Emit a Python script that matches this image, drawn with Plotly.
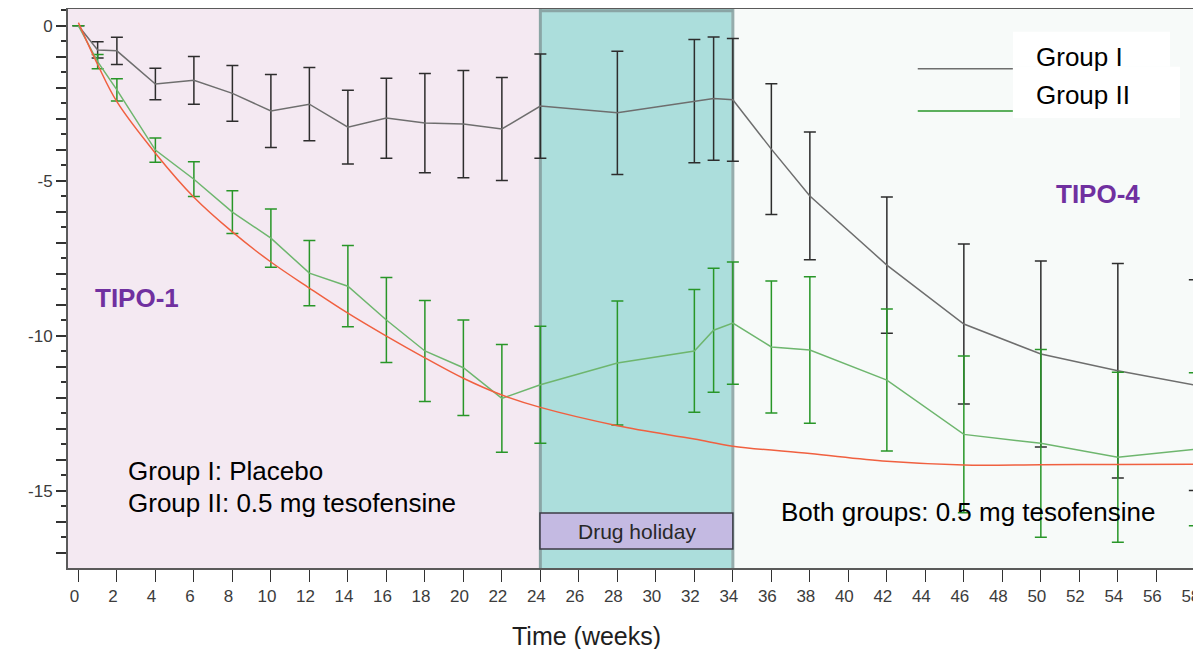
import plotly.graph_objects as go

# ---------------- data ----------------
weeks = [0, 1, 2, 4, 6, 8, 10, 12, 14, 16, 18, 20, 22, 24, 28, 32, 33, 34, 36, 38, 42, 46, 50, 54, 58]

group1_mean = [0, -0.78, -0.81, -1.88, -1.76, -2.18, -2.75, -2.53, -3.27, -2.98, -3.14, -3.17, -3.33,
               -2.59, -2.81, -2.43, -2.35, -2.39, -3.98, -5.49, -7.72, -9.62, -10.59, -11.13, -11.59]
group1_err = [0, 0.26, 0.44, 0.51, 0.77, 0.90, 1.18, 1.18, 1.19, 1.29, 1.60, 1.73, 1.66,
              1.68, 1.99, 1.99, 1.99, 1.98, 2.11, 2.06, 2.20, 2.58, 3.00, 3.46, 3.40]

group2_mean = [0, -1.16, -2.07, -4.01, -4.95, -6.01, -6.85, -7.98, -8.40, -9.49, -10.49, -11.03, -12.02,
               -11.58, -10.88, -10.49, -9.82, -9.59, -10.36, -10.46, -11.43, -13.18, -13.47, -13.92, -13.66]
group2_err = [0, 0.23, 0.36, 0.39, 0.56, 0.69, 0.94, 1.05, 1.31, 1.37, 1.63, 1.54, 1.74,
              1.89, 2.00, 1.98, 2.00, 1.97, 2.13, 2.36, 2.29, 2.53, 3.03, 2.74, 2.47]

model_weeks = [0, 1, 2, 4, 6, 8, 10, 12, 14, 16, 18, 20, 22, 24, 28, 32, 34, 38, 42, 46, 50, 54, 58]
model_curve = [0.1, -1.25, -2.45, -4.11, -5.53, -6.65, -7.62, -8.46, -9.27, -10.01, -10.71, -11.37,
               -11.91, -12.31, -12.90, -13.33, -13.56, -13.80, -14.05, -14.17, -14.16, -14.15, -14.14]

x_ticks = list(range(0, 60, 2))
y_major = list(range(-17, 1))
y_labels = [str(v) if v % 5 == 0 else "" for v in y_major]
y_minor = [v - 0.5 for v in range(-16, 2)]

legend_names = ["Group I", "Group II"]

# ---------------- style ----------------
FONT = "Arial, Liberation Sans, sans-serif"
XR = [-0.54, 58.32]
YR = [-17.49, 0.54]
PINK = "rgb(244,233,242)"
TEAL = "rgb(172,222,220)"
RIGHT = "rgb(247,250,249)"
GRAY_LINE = "rgb(110,110,110)"
GRAY_ERR = "rgb(45,45,45)"
GREEN_LINE = "rgb(110,182,110)"
GREEN_ERR = "rgb(40,150,40)"
RED = "rgb(240,96,64)"

fig = go.Figure()

fig.add_trace(go.Scatter(
    x=weeks, y=group1_mean, mode="lines", name=legend_names[0],
    line=dict(color=GRAY_LINE, width=1.5),
    error_y=dict(type="data", array=group1_err, visible=True, color=GRAY_ERR, thickness=1.5, width=6),
))
fig.add_trace(go.Scatter(
    x=weeks, y=group2_mean, mode="lines", name=legend_names[1],
    line=dict(color=GREEN_LINE, width=1.5),
    error_y=dict(type="data", array=group2_err, visible=True, color=GREEN_ERR, thickness=1.5, width=6),
))
fig.add_trace(go.Scatter(
    x=model_weeks, y=model_curve, mode="lines", name="model",
    line=dict(color=RED, width=1.5, shape="spline", smoothing=1.0),
))

shapes = [
    dict(type="rect", xref="x", yref="y domain", x0=XR[0], x1=24, y0=0, y1=1,
         fillcolor=PINK, line=dict(width=0), layer="below"),
    dict(type="rect", xref="x", yref="y domain", x0=24, x1=34, y0=0, y1=1,
         fillcolor=TEAL, line=dict(width=0), layer="below"),
    dict(type="rect", xref="x", yref="y domain", x0=34, x1=XR[1], y0=0, y1=1,
         fillcolor=RIGHT, line=dict(width=0), layer="below"),
    dict(type="line", xref="x", yref="y domain", x0=24, x1=24, y0=0, y1=1,
         line=dict(color="rgb(138,165,165)", width=3), layer="below"),
    dict(type="line", xref="x", yref="y domain", x0=34, x1=34, y0=0, y1=1,
         line=dict(color="rgb(150,172,172)", width=3), layer="below"),
    dict(type="line", xref="x", yref="y domain", x0=24, x1=34, y0=0.997, y1=0.997,
         line=dict(color="rgb(138,165,165)", width=3), layer="below"),
    # drug holiday box
    dict(type="rect", xref="x", yref="y", x0=23.98, x1=34.0, y0=-16.88, y1=-15.72,
         fillcolor="rgb(196,186,226)", line=dict(color="rgb(60,60,70)", width=1.5), layer="above"),
    # legend swatches
    dict(type="line", xref="paper", yref="paper", x0=0.750, x1=0.834, y0=0.893, y1=0.893,
         line=dict(color=GRAY_LINE, width=1.5)),
    dict(type="line", xref="paper", yref="paper", x0=0.750, x1=0.834, y0=0.8175, y1=0.8175,
         line=dict(color=GREEN_ERR, width=1.5)),
    dict(type="rect", xref="paper", yref="paper", x0=0.834, x1=0.9726, y0=0.8968, y1=0.9594,
         fillcolor="white", line=dict(width=0)),
    dict(type="rect", xref="paper", yref="paper", x0=0.834, x1=0.9815, y0=0.805, y1=0.8968,
         fillcolor="white", line=dict(width=0)),
]

annotations = [
    dict(x=3.05, y=-8.78, xref="x", yref="y", text="<b>TIPO-1</b>", showarrow=False,
         font=dict(family=FONT, size=26, color="rgb(112,48,160)")),
    dict(x=52.97, y=-5.43, xref="x", yref="y", text="<b>TIPO-4</b>", showarrow=False,
         font=dict(family=FONT, size=26, color="rgb(112,48,160)")),
    dict(x=2.47, y=-14.36, xref="x", yref="y", text="Group I: Placebo", showarrow=False,
         xanchor="left", yanchor="middle", font=dict(family=FONT, size=26, color="black")),
    dict(x=2.47, y=-15.40, xref="x", yref="y", text="Group II: 0.5 mg tesofensine", showarrow=False,
         xanchor="left", yanchor="middle", font=dict(family=FONT, size=26, color="black")),
    dict(x=36.4, y=-15.69, xref="x", yref="y", text="Both groups: 0.5 mg tesofensine", showarrow=False,
         xanchor="left", yanchor="middle", font=dict(family=FONT, size=26, color="black")),
    dict(x=29.0, y=-16.30, xref="x", yref="y", text="Drug holiday", showarrow=False,
         yanchor="middle", font=dict(family=FONT, size=21, color="rgb(40,40,40)")),
    dict(x=0.8526, y=0.914, xref="paper", yref="paper", text=legend_names[0], showarrow=False,
         xanchor="left", yanchor="middle", font=dict(family=FONT, size=26, color="black")),
    dict(x=0.8526, y=0.846, xref="paper", yref="paper", text=legend_names[1], showarrow=False,
         xanchor="left", yanchor="middle", font=dict(family=FONT, size=26, color="black")),
    dict(x=0.458, y=-0.1216, xref="paper", yref="paper", text="Time (weeks)", showarrow=False,
         xanchor="center", yanchor="middle", font=dict(family=FONT, size=25, color="rgb(30,30,30)")),
]

# The page body has an 8px margin, so the figure is sized and padded to land
# its plot area where the reference has it.
fig.update_layout(
    width=1193, height=641,
    margin=dict(l=60, r=0, t=1, b=81, autoexpand=False),
    paper_bgcolor="white", plot_bgcolor="white",
    showlegend=False,
    shapes=shapes, annotations=annotations,
    font=dict(family=FONT),
    xaxis=dict(
        range=XR, tickmode="array", tickvals=x_ticks, ticks="outside", ticklen=12,
        tickcolor="rgb(50,50,50)", tickwidth=1.2, automargin=False, ticklabeloverflow="allow",
        ticklabelshift=-4,
        showgrid=False, zeroline=False, showline=True, linecolor="rgb(90,90,90)", linewidth=2,
        mirror=True, tickfont=dict(family=FONT, size=17, color="rgb(60,60,60)"),
    ),
    yaxis=dict(
        range=YR, tickmode="array", tickvals=y_major, ticktext=y_labels, ticks="outside", ticklen=10,
        tickcolor="rgb(50,50,50)", tickwidth=1.5, automargin=False,
        minor=dict(tickmode="array", tickvals=y_minor, ticks="outside", ticklen=5,
                   tickcolor="rgb(50,50,50)", tickwidth=1.5),
        showgrid=False, zeroline=False, showline=True, linecolor="rgb(90,90,90)", linewidth=2,
        tickfont=dict(family=FONT, size=17, color="rgb(60,60,60)"),
    ),
)

fig.write_html("out.html")
